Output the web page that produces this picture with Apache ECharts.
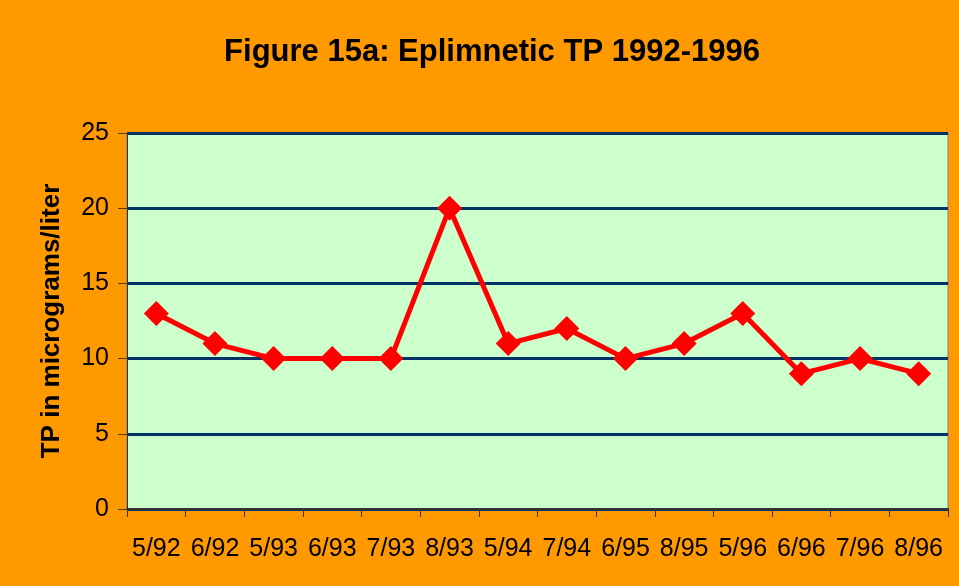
<!DOCTYPE html>
<html><head><meta charset="utf-8">
<script src="https://cdn.jsdelivr.net/npm/echarts@6/dist/echarts.min.js"></script>
<style>html,body{margin:0;padding:0;background:#FF9900}#c{width:959px;height:586px}</style>
</head><body><div id="c"></div>
<script>
const categories = ['5/92','6/92','5/93','6/93','7/93','8/93','5/94','7/94','6/95','8/95','5/96','6/96','7/96','8/96'];
const tpValues = [13, 11, 10, 10, 10, 20, 11, 12, 10, 11, 13, 9, 10, 9];
const yTicks = [0, 5, 10, 15, 20, 25];

const chart = echarts.init(document.getElementById('c'));
chart.setOption({
  backgroundColor: '#FF9900',
  animation: false,
  title: {
    text: 'Figure 15a: Eplimnetic TP 1992-1996',
    left: 487, top: 32, textAlign: 'center',
    textStyle: {fontFamily: 'Liberation Sans, Arial', fontSize: 31, fontWeight: 'bold', color: '#000'}
  },
  grid: {left: 127, right: 11, top: 133, bottom: 77, show: true, backgroundColor: '#CCFFCC', borderColor: '#808080', borderWidth: 1},
  xAxis: {
    type: 'category', data: categories, boundaryGap: true,
    axisLine: {lineStyle: {color: '#333', width: 2}},
    axisTick: {show: true, length: 8, lineStyle: {color: '#333'}},
    axisLabel: {fontFamily: 'Liberation Sans, Arial', fontSize: 25, color: '#000', margin: 28, interval: 0}
  },
  yAxis: {
    type: 'value', min: 0, max: 25, interval: 5,
    name: 'TP in micrograms/liter', nameLocation: 'middle', nameGap: 62,
    nameTextStyle: {fontFamily: 'Liberation Sans, Arial', fontSize: 26, fontWeight: 'bold', color: '#000'},
    axisLine: {show: true, lineStyle: {color: '#333', width: 1}},
    axisTick: {show: true, length: 9, lineStyle: {color: '#5a3a00'}},
    axisLabel: {fontFamily: 'Liberation Sans, Arial', fontSize: 25, color: '#000', margin: 18,
      formatter: v => yTicks.includes(v) ? String(v) : ''},
    splitLine: {show: true, lineStyle: {color: '#003366', width: 3}}
  },
  series: [{
    type: 'line', data: tpValues,
    lineStyle: {color: '#FF0000', width: 5},
    itemStyle: {color: '#FF0000'},
    symbol: 'diamond', symbolSize: 25
  }]
});
</script></body></html>
